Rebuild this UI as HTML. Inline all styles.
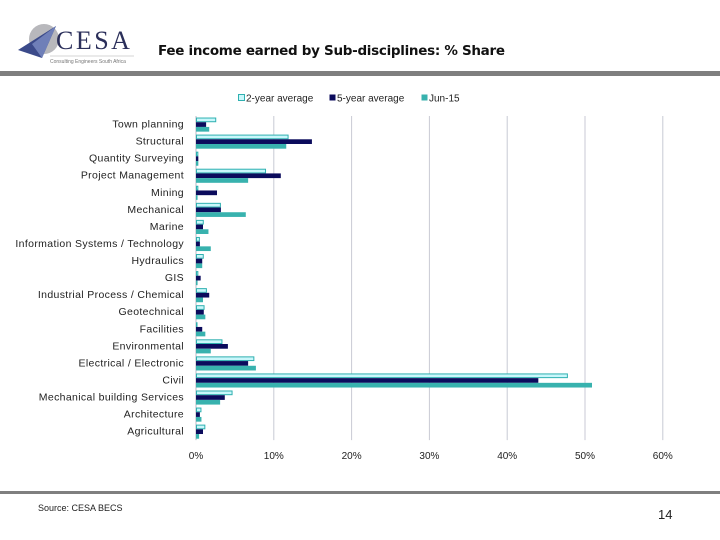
<!DOCTYPE html>
<html><head><meta charset="utf-8">
<style>
body{margin:0;width:720px;height:540px;background:#fff;position:relative;overflow:hidden;font-family:"Liberation Sans",sans-serif}
.abs{position:absolute}
</style></head>
<body>
<div class="abs" style="left:14px;top:20px;width:130px;height:46px">
<svg width="130" height="46">
<circle cx="30" cy="19" r="15" fill="#b8b8bc"/>
<polygon points="4,30 42,6 28,38" fill="#3b4a8a"/>
<polygon points="18,24 42,6 28,38" fill="#6f7fb8"/>
<text x="42" y="29" font-family="Liberation Serif,serif" font-size="26" fill="#2b2f5a" letter-spacing="2.5">CESA</text>
<line x1="36" y1="36" x2="120" y2="36" stroke="#aaa" stroke-width="0.6"/>
<text x="36" y="43" font-size="5" fill="#777">Consulting Engineers South Africa</text>
</svg></div>
<div class="abs" style="left:158px;top:43px;font-size:13.5px;font-weight:bold;color:#111;font-family:'DejaVu Sans',sans-serif;letter-spacing:-0.3px">Fee income earned by Sub-disciplines: % Share</div>
<div class="abs" style="left:0;top:71px;width:720px;height:5px;background:#7f7f7f"></div>
<div class="abs" style="left:0;top:491px;width:720px;height:3px;background:#7f7f7f"></div>
<div class="abs" style="left:38px;top:503px;font-size:9px;color:#222">Source: CESA BECS</div>
<div class="abs" style="left:658px;top:507px;font-size:13px;color:#222">14</div>
<svg id="chart" class="abs" style="left:0;top:0" width="720" height="540"></svg>
<script>
const categories=["Town planning","Structural","Quantity Surveying","Project Management","Mining","Mechanical","Marine","Information Systems / Technology","Hydraulics","GIS","Industrial Process / Chemical","Geotechnical","Facilities","Environmental","Electrical / Electronic","Civil","Mechanical building Services","Architecture","Agricultural"];
const twoYear=[2.6,11.9,0.3,9.0,0.3,3.2,1.0,0.5,1.0,0.3,1.4,1.1,0.1,3.4,7.5,47.8,4.7,0.7,1.2];
const fiveYear=[1.3,14.9,0.3,10.9,2.7,3.2,0.9,0.5,0.8,0.6,1.7,1.0,0.8,4.1,6.7,44.0,3.7,0.5,0.9];
const jun15=[1.7,11.6,0.3,6.7,0.2,6.4,1.6,1.9,0.8,0.2,0.9,1.2,1.2,1.9,7.7,50.9,3.1,0.7,0.4];
const ticks=[0,10,20,30,40,50,60];
const seriesNames=["2-year average","5-year average","Jun-15"];
const NS="http://www.w3.org/2000/svg";
const svg=document.getElementById("chart");
const x0=196,pxPer=7.78,yTop=116,rowH=17.06;
const xs=v=>x0+v*pxPer;
const yc=i=>yTop+rowH*(i+0.5);
function mk(t,a){const e=document.createElementNS(NS,t);for(const k in a)e.setAttribute(k,a[k]);svg.appendChild(e);return e;}
ticks.forEach(t=>{
  if(t>0){const g=mk("line",{x1:xs(t),x2:xs(t),y1:yTop,y2:yTop+rowH*19,stroke:"#c8cad4","stroke-width":1});
  
  }
  const l=mk("text",{x:xs(t),y:459,"font-size":10,"text-anchor":"middle",fill:"#222","font-family":"Liberation Sans,sans-serif"});
  l.textContent=t+"%";
  
  
});
const ax=mk("line",{x1:x0,x2:x0,y1:yTop,y2:yTop+rowH*19,stroke:"#b8bac4","stroke-width":1});


const styles=[{fill:"#c9f7fb",stroke:"#2fb0b0"},{fill:"#0b0b5c",stroke:"none"},{fill:"#38b2ae",stroke:"none"}];
const data=[twoYear,fiveYear,jun15];
categories.forEach((c,i)=>{
  const t=mk("text",{x:184,y:yc(i)+3,"font-size":10.5,"letter-spacing":0.35,"text-anchor":"end",fill:"#222","font-family":"Liberation Sans,sans-serif"});
  t.textContent=c;
  
  
  data.forEach((s,j)=>{
    const by=yc(i)-7+j*4.7;
    const w=Math.max(s[i]*pxPer,0.8);
    const r=mk("rect",{x:x0+(j==0?0.5:0),y:by+(j==0?0.5:0),width:j==0?Math.max(w-1,0.5):w,height:j==0?3.7:4.7,fill:styles[j].fill,stroke:styles[j].stroke,"stroke-width":1});
    
    
  });
});
const legX=[238,329,421];
seriesNames.forEach((n,j)=>{
  const r=mk("rect",{x:legX[j]+0.5,y:94.5,width:6,height:6,fill:styles[j].fill,stroke:styles[j].stroke,"stroke-width":1});
  
  
  const t=mk("text",{x:legX[j]+8,y:101.5,"font-size":10,fill:"#222","font-family":"Liberation Sans,sans-serif"});
  t.textContent=n;
  
  
});
</script>
</body></html>
